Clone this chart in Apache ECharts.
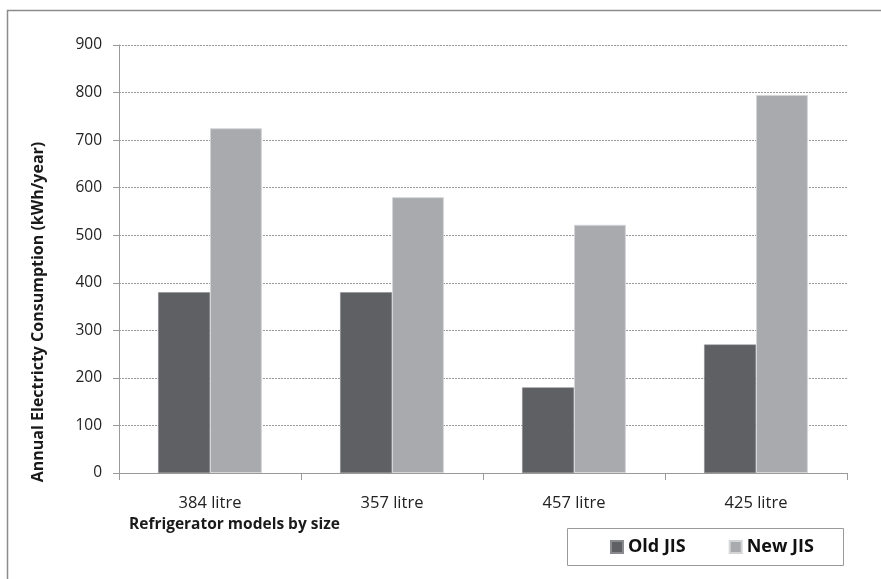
<!DOCTYPE html>
<html>
<head>
<meta charset="utf-8">
<script src="https://cdn.jsdelivr.net/npm/echarts@6/dist/echarts.min.js"></script>
<style>
  html, body { margin: 0; padding: 0; background: #fff; }
  #chart { width: 881px; height: 579px; }
</style>
</head>
<body>
<div id="chart"></div>
<script>
// Refrigerator models and their annual consumption under the two standards
const categories = ['384 litre', '357 litre', '457 litre', '425 litre'];
const oldJIS = [380, 380, 180, 270];
const newJIS = [725, 580, 522, 795];
const yTicks = { min: 0, max: 900, interval: 100 };

const xTitle = 'Refrigerator models by size';
const yTitle = 'Annual Electricty Consumption (kWh/year)';

const FONT = '"Open Sans", Lato, sans-serif';
const chart = echarts.init(document.getElementById('chart'), null, { renderer: 'canvas' });

chart.setOption({
  backgroundColor: '#ffffff',
  animation: false,
  textStyle: { fontFamily: FONT },
  grid: { left: 119, right: 34, top: 45, bottom: 106, containLabel: false },
  graphic: [
    // outer frame (runs off the right and bottom edges)
    { type: 'rect', shape: { x: 7.5, y: 10.5, width: 1000, height: 1000 },
      style: { fill: 'none', stroke: '#8c8c8c', lineWidth: 1.5 }, silent: true, z: -1 },
    // legend box
    { type: 'rect', shape: { x: 567.5, y: 528.5, width: 276, height: 37 },
      style: { fill: '#fff', stroke: '#9a9a9a', lineWidth: 1 }, silent: true, z: 0 },
    // x axis title
    { type: 'text', x: 129, y: 525,
      style: { text: xTitle, font: 'bold 15.5px ' + FONT, fill: '#1a1a1a',
               align: 'left', verticalAlign: 'middle' } },
    // y axis title, reading bottom to top
    { type: 'text', x: 38, y: 312, rotation: Math.PI / 2,
      style: { text: yTitle, font: 'bold 16px ' + FONT, fill: '#1a1a1a',
               align: 'center', verticalAlign: 'middle' } }
  ],
  legend: {
    left: 610, top: 537, padding: 0, itemWidth: 12, itemHeight: 12, itemGap: 43,
    icon: 'rect', z: 5,
    textStyle: { fontFamily: FONT, fontSize: 18, fontWeight: 'bold', color: '#111',
                 lineHeight: 20, padding: [0, 0, 0, 0] },
    data: ['Old JIS', 'New JIS']
  },
  xAxis: {
    type: 'category', data: categories,
    axisLine: { lineStyle: { color: '#9a9a9a', width: 1 } },
    axisTick: { show: true, length: 7, lineStyle: { color: '#9a9a9a' } },
    axisLabel: { fontSize: 16.5, color: '#222', margin: 22, fontFamily: FONT }
  },
  yAxis: {
    type: 'value', min: yTicks.min, max: yTicks.max, interval: yTicks.interval,
    axisLine: { show: true, lineStyle: { color: '#9a9a9a', width: 1 } },
    axisTick: { show: true, length: 6, lineStyle: { color: '#9a9a9a' } },
    axisLabel: { fontSize: 15.5, color: '#222', margin: 17, fontFamily: FONT },
    splitLine: { show: true, lineStyle: { color: '#9a9a9a', type: [2, 1], width: 1 } }
  },
  series: [
    { name: 'Old JIS', type: 'bar', data: oldJIS, barGap: '0%', barCategoryGap: '43%',
      itemStyle: { color: '#5f6064', borderColor: '#8a8b8e', borderWidth: 0.5 } },
    { name: 'New JIS', type: 'bar', data: newJIS,
      itemStyle: { color: '#a8aaad', borderColor: '#d4d5d7', borderWidth: 1 } }
  ]
});
</script>
</body>
</html>
